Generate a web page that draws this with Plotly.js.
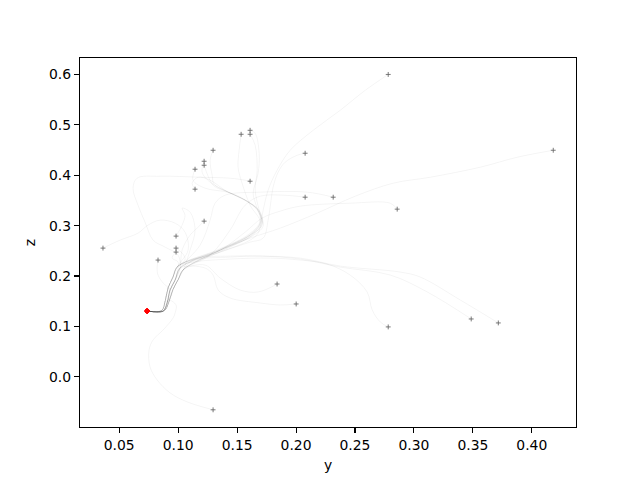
<!DOCTYPE html>
<html>
<head>
<meta charset="utf-8">
<script src="https://cdn.plot.ly/plotly-3.0.1.min.js"></script>
<style>html,body{margin:0;padding:0;background:#fff;}#chart{width:640px;height:480px;}</style>
</head>
<body>
<div id="chart"></div>
<script>
// ---- trajectory data (y, z) ----
const t01_y = [0.0736,0.0872,0.0906,0.0931,0.0974,0.1016,0.1356,0.1610,0.1678,0.1721,0.1763,0.1839,0.1950,0.2145,0.2374,0.2586,0.2782];
const t01_z = [0.1307,0.1307,0.1466,0.1723,0.1921,0.2159,0.2475,0.2713,0.2851,0.3307,0.3703,0.4099,0.4495,0.4891,0.5287,0.5683,0.5999];
const t02_y = [0.0736,0.0880,0.0920,0.0955,0.1000,0.1045,0.1398,0.1610,0.1865,0.2179,0.2502,0.2824,0.3138,0.3563,0.3877,0.4182];
const t02_z = [0.1307,0.1307,0.1480,0.1730,0.1930,0.2130,0.2554,0.2752,0.2950,0.3248,0.3584,0.3842,0.3960,0.4159,0.4357,0.4495];
const t03_y = [0.0736,0.0860,0.0890,0.0915,0.0955,0.0995,0.1084,0.1058,0.0974,0.0846,0.0744,0.0659,0.0507,0.0362];
const t03_z = [0.1307,0.1317,0.1510,0.1770,0.1975,0.2190,0.2515,0.2871,0.3049,0.3109,0.3010,0.2851,0.2713,0.2554];
const t04_y = [0.0736,0.0872,0.0914,0.0982,0.0974,0.0957,0.0872,0.0787,0.0753,0.0761,0.0821,0.0931,0.1075,0.1296];
const t04_z = [0.1307,0.1307,0.1525,0.1426,0.1268,0.1169,0.0931,0.0733,0.0535,0.0198,-0.0059,-0.0317,-0.0495,-0.0653];
const t05_y = [0.0736,0.0872,0.0906,0.0931,0.0974,0.1016,0.1126,0.1440,0.1695,0.2035,0.2374,0.2884,0.3053,0.3393,0.3716];
const t05_z = [0.1307,0.1307,0.1466,0.1723,0.1921,0.2159,0.2317,0.2376,0.2396,0.2356,0.2198,0.2079,0.1981,0.1525,0.1070];
const t06_y = [0.0736,0.0880,0.0920,0.0955,0.1000,0.1045,0.1143,0.1440,0.1712,0.2035,0.2374,0.2799,0.3113,0.3486];
const t06_z = [0.1307,0.1307,0.1480,0.1730,0.1930,0.2130,0.2337,0.2396,0.2396,0.2337,0.2178,0.2020,0.1684,0.1149];
const t07_y = [0.0736,0.0860,0.0890,0.0915,0.0955,0.0995,0.1126,0.1440,0.1780,0.2035,0.2264,0.2459,0.2603,0.2646,0.2714,0.2782];
const t07_z = [0.1307,0.1317,0.1510,0.1770,0.1975,0.2190,0.2277,0.2337,0.2356,0.2317,0.2238,0.2020,0.1684,0.1327,0.1090,0.0991];
const t08_y = [0.0736,0.0872,0.0906,0.0931,0.0974,0.1016,0.1228,0.1296,0.1339,0.1440,0.1695,0.1865,0.2001];
const t08_z = [0.1307,0.1307,0.1466,0.1723,0.1921,0.2159,0.2159,0.2020,0.1723,0.1565,0.1466,0.1426,0.1446];
const t09_y = [0.0736,0.0880,0.0920,0.0955,0.1000,0.1045,0.1228,0.1356,0.1525,0.1678,0.1839];
const t09_z = [0.1307,0.1307,0.1480,0.1730,0.1930,0.2130,0.2218,0.1961,0.1723,0.1684,0.1842];
const t10_y = [0.0736,0.0860,0.0890,0.0915,0.0955,0.0995,0.1356,0.1568,0.1712,0.1865,0.2035,0.2459,0.2799,0.2858];
const t10_z = [0.1307,0.1317,0.1510,0.1770,0.1975,0.2190,0.2515,0.2871,0.3149,0.3287,0.3386,0.3445,0.3445,0.3327];
const t11_y = [0.0736,0.0872,0.0906,0.0931,0.0974,0.1016,0.1186,0.1271,0.1313,0.1398,0.1695,0.2094,0.2315];
const t11_z = [0.1307,0.1307,0.1466,0.1723,0.1921,0.2159,0.2614,0.3109,0.3445,0.3604,0.3664,0.3664,0.3564];
const t12_y = [0.0736,0.0880,0.0920,0.0955,0.1000,0.1045,0.1271,0.1440,0.1568,0.1695,0.1890,0.2077];
const t12_z = [0.1307,0.1307,0.1480,0.1730,0.1930,0.2130,0.2416,0.2911,0.3406,0.3584,0.3604,0.3564];
const t13_y = [0.0736,0.0860,0.0890,0.0915,0.0955,0.0995,0.1356,0.1610,0.1721,0.1763,0.1788,0.1805,0.1848,0.1907,0.2009,0.2077];
const t13_z = [0.1307,0.1317,0.1510,0.1770,0.1975,0.2190,0.2475,0.2673,0.2752,0.3109,0.3505,0.3762,0.4059,0.4257,0.4396,0.4436];
const t14_y = [0.0736,0.0872,0.0906,0.0931,0.0974,0.1016,0.0999,0.0889,0.0787,0.0719,0.0659,0.0617,0.0651,0.0846,0.1186,0.1440,0.1568,0.1610];
const t14_z = [0.1307,0.1307,0.1466,0.1723,0.1921,0.2159,0.2416,0.2574,0.2713,0.3069,0.3406,0.3743,0.3941,0.3980,0.3960,0.3941,0.3901,0.3881];
const t15_y = [0.0736,0.0880,0.0920,0.0955,0.1000,0.1045,0.1356,0.1610,0.1712,0.1661,0.1636,0.1678,0.1687,0.1653,0.1610];
const t15_z = [0.1307,0.1307,0.1480,0.1730,0.1930,0.2130,0.2515,0.2812,0.3010,0.3406,0.3644,0.4040,0.4436,0.4832,0.4891];
const t16_y = [0.0736,0.0860,0.0890,0.0915,0.0955,0.0995,0.1373,0.1627,0.1721,0.1687,0.1653,0.1670,0.1653,0.1610];
const t16_z = [0.1307,0.1317,0.1510,0.1770,0.1975,0.2190,0.2535,0.2792,0.2991,0.3307,0.3703,0.4099,0.4594,0.4812];
const t17_y = [0.0736,0.0872,0.0906,0.0931,0.0974,0.1016,0.1356,0.1610,0.1695,0.1610,0.1542,0.1508,0.1517,0.1534];
const t17_z = [0.1307,0.1307,0.1466,0.1723,0.1921,0.2159,0.2515,0.2812,0.3069,0.3406,0.3842,0.4159,0.4495,0.4812];
const t18_y = [0.0736,0.0880,0.0920,0.0955,0.1000,0.1045,0.1356,0.1610,0.1704,0.1678,0.1568,0.1424,0.1305,0.1288,0.1271,0.1296];
const t18_z = [0.1307,0.1307,0.1480,0.1730,0.1930,0.2130,0.2515,0.2812,0.3069,0.3307,0.3505,0.3664,0.3822,0.4000,0.4297,0.4495];
const t19_y = [0.0736,0.0860,0.0890,0.0915,0.0955,0.0995,0.1360,0.1615,0.1710,0.1685,0.1575,0.1430,0.1271,0.1203,0.1220];
const t19_z = [0.1307,0.1317,0.1510,0.1770,0.1975,0.2190,0.2505,0.2800,0.3060,0.3300,0.3500,0.3660,0.3861,0.4059,0.4277];
const t20_y = [0.0736,0.0872,0.0906,0.0931,0.0974,0.1016,0.1350,0.1605,0.1700,0.1672,0.1560,0.1418,0.1305,0.1254,0.1220];
const t20_z = [0.1307,0.1307,0.1466,0.1723,0.1921,0.2159,0.2525,0.2820,0.3080,0.3315,0.3512,0.3670,0.3783,0.3980,0.4198];
const t21_y = [0.0736,0.0880,0.0920,0.0955,0.1000,0.1045,0.1365,0.1620,0.1715,0.1690,0.1580,0.1435,0.1228,0.1126,0.1143];
const t21_z = [0.1307,0.1307,0.1480,0.1730,0.1930,0.2130,0.2495,0.2795,0.3050,0.3290,0.3495,0.3655,0.3743,0.3901,0.4119];
const t22_y = [0.0736,0.0860,0.0890,0.0915,0.0955,0.0995,0.1345,0.1600,0.1695,0.1668,0.1555,0.1415,0.1271,0.1169,0.1118,0.1143];
const t22_z = [0.1307,0.1317,0.1510,0.1770,0.1975,0.2190,0.2530,0.2830,0.3085,0.3320,0.3520,0.3675,0.3901,0.3960,0.3842,0.3723];
const t23_y = [0.0736,0.0872,0.0906,0.0931,0.0974,0.1016,0.1033,0.1101,0.1160,0.1220];
const t23_z = [0.1307,0.1307,0.1466,0.1723,0.1921,0.2159,0.2515,0.2812,0.2950,0.3089];
const t24_y = [0.0736,0.0880,0.0920,0.0955,0.1000,0.1045,0.1101,0.1143,0.1101,0.1033,0.1058,0.1033,0.0982];
const t24_z = [0.1307,0.1307,0.1480,0.1730,0.1930,0.2130,0.2515,0.2911,0.3267,0.3347,0.3208,0.3010,0.2792];
const t25_y = [0.0736,0.0860,0.0890,0.0915,0.0955,0.0995,0.1058,0.1041,0.0982];
const t25_z = [0.1307,0.1317,0.1510,0.1770,0.1975,0.2190,0.2317,0.2436,0.2554];
const t26_y = [0.0736,0.0872,0.0906,0.0931,0.0974,0.0999,0.0948,0.0982];
const t26_z = [0.1307,0.1307,0.1466,0.1723,0.1921,0.2277,0.2356,0.2475];
const t27_y = [0.0736,0.0872,0.0906,0.0931,0.0872,0.0829,0.0821,0.0829];
const t27_z = [0.1307,0.1307,0.1466,0.1723,0.1862,0.2020,0.2159,0.2317];

// ---- axis ticks ----
const yTickVals = [0.05,0.10,0.15,0.20,0.25,0.30,0.35,0.40];
const yTickText = ['0.05','0.10','0.15','0.20','0.25','0.30','0.35','0.40'];
const zTickVals = [0.0,0.1,0.2,0.3,0.4,0.5,0.6];
const zTickText = ['0.0','0.1','0.2','0.3','0.4','0.5','0.6'];
const yRange = [0.0167,0.4375];
const zRange = [-0.0994,0.6325];

const paths = [
  [t01_y,t01_z],[t02_y,t02_z],[t03_y,t03_z],[t04_y,t04_z],[t05_y,t05_z],[t06_y,t06_z],
  [t07_y,t07_z],[t08_y,t08_z],[t09_y,t09_z],[t10_y,t10_z],[t11_y,t11_z],[t12_y,t12_z],
  [t13_y,t13_z],[t14_y,t14_z],[t15_y,t15_z],[t16_y,t16_z],[t17_y,t17_z],[t18_y,t18_z],
  [t19_y,t19_z],[t20_y,t20_z],[t21_y,t21_z],[t22_y,t22_z],[t23_y,t23_z],[t24_y,t24_z],
  [t25_y,t25_z],[t26_y,t26_z],[t27_y,t27_z]
];

const traces = paths.map(p => ({
  type:'scatter', mode:'lines', x:p[0], y:p[1],
  line:{color:'rgba(0,0,0,0.06)', width:0.8, shape:'spline', smoothing:1},
  hoverinfo:'skip', showlegend:false
}));
traces.push({
  type:'scatter', mode:'markers',
  x:paths.map(p=>p[0][p[0].length-1]), y:paths.map(p=>p[1][p[1].length-1]),
  marker:{symbol:'cross-thin', size:3.5, line:{color:'rgba(100,100,100,0.85)', width:1}},
  showlegend:false, hoverinfo:'skip'
});
traces.push({
  type:'scatter', mode:'markers',
  x:paths.map(p=>p[0][0]), y:paths.map(p=>p[1][0]),
  marker:{symbol:'circle', size:4.5, color:'red'},
  showlegend:false, hoverinfo:'skip'
});

const font = {family:'DejaVu Sans, sans-serif', size:13.9, color:'#000'};
const layout = {
  width:640, height:480,
  margin:{l:80, r:64, t:58, b:53, pad:0},
  paper_bgcolor:'#fff', plot_bgcolor:'#fff',
  font:font, showlegend:false,
  xaxis:{range:yRange, tickvals:yTickVals, ticktext:yTickText, ticks:'outside', ticklen:5, tickwidth:1.1,
         tickcolor:'#000', showline:true, mirror:true, linecolor:'#000', linewidth:1.1,
         showgrid:false, zeroline:false, title:{text:'y', font:font, standoff:8}},
  yaxis:{range:zRange, tickvals:zTickVals, ticktext:zTickText, ticks:'outside', ticklen:5, tickwidth:1.1,
         tickcolor:'#000', showline:true, mirror:true, linecolor:'#000', linewidth:1.1,
         showgrid:false, zeroline:false, title:{text:'z', font:font, standoff:10}}
};
Plotly.newPlot('chart', traces, layout, {staticPlot:true, displayModeBar:false});
</script>
</body>
</html>
